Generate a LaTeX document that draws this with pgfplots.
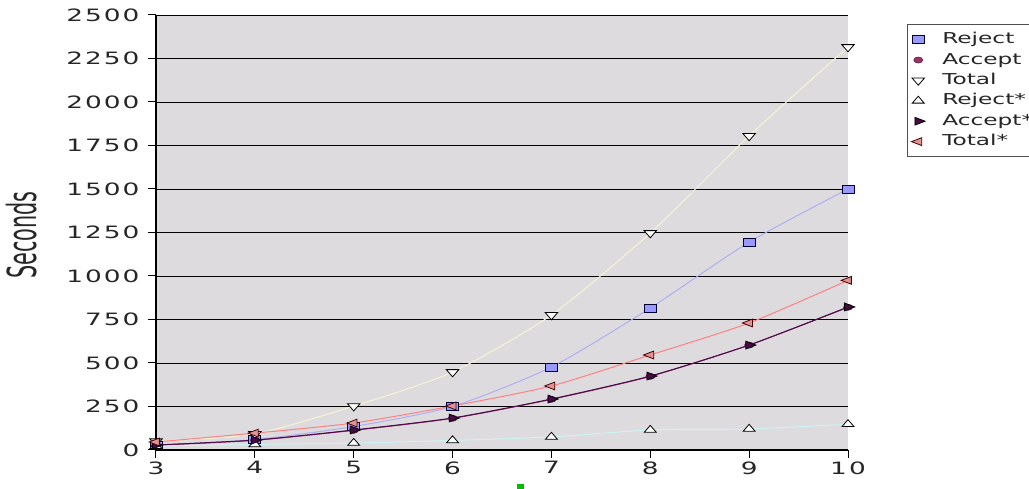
\documentclass[border=0pt]{standalone}
\usepackage{fontspec}
\setmainfont{DejaVu Sans}[FakeStretch=1.55]
\newfontfamily\tickfont{DejaVu Sans}[FakeStretch=1.55, LetterSpace=12]
\newfontfamily\labelfont{DejaVu Sans}[FakeStretch=0.52]
\usepackage{graphicx}
\usepackage{pgfplots}
\pgfplotsset{compat=1.18}

\definecolor{wall}{HTML}{DEDBDF}
\definecolor{cReject}{HTML}{9999FF}
\definecolor{cRejectLine}{HTML}{AEAEF2}
\definecolor{cAccept}{HTML}{993366}
\definecolor{cTotal}{HTML}{F8F4D2}
\definecolor{cRejectS}{HTML}{CCF4F4}
\definecolor{cAcceptS}{HTML}{4A0A4A}
\definecolor{cTotalS}{HTML}{FF8080}
\definecolor{cTotalSfill}{HTML}{E09494}
\definecolor{ticktext}{HTML}{262626}
\definecolor{legframe}{HTML}{505050}

\begin{document}
\begin{tikzpicture}[x=1pt,y=1pt]
\begin{axis}[
    scale only axis,
    width=692pt, height=435pt,
    xmin=3, xmax=10, ymin=0, ymax=2500,
    clip=false,
    axis lines=left,
    axis line style={-, line width=1.2pt, black},
    axis background/.style={fill=wall},
    xtick={3,4,...,10},
    ytick={0,250,...,2500},
    tick align=outside,
    major tick length=8pt,
    tick style={black, line width=1pt},
    ymajorgrids,
    major grid style={black, line width=0.9pt},
    /pgf/number format/assume math mode=true,
    /pgf/number format/1000 sep={},
    tick label style={font=\tickfont\fontsize{17}{17}\selectfont, text=ticktext},
    yticklabel style={xshift=-5pt},
    ylabel={\labelfont\fontsize{40}{40}\selectfont Seconds},
    ylabel style={at={(axis description cs:-0.1936,0.494)}, anchor=center, text=ticktext},
    legend style={at={(1.0853,0.979)}, anchor=north west,
        draw=legframe, line width=1pt, fill=white,
        font=\fontsize{15}{15}\selectfont, text=ticktext,
        inner xsep=4pt, inner ysep=7pt, row sep=4.4pt,
        nodes={inner sep=1pt, text height=11pt, text depth=3pt}},
    legend cell align=left,
    legend image code/.code={%
        \path[draw=none, fill=none] (0pt,-5pt) rectangle (29pt,5pt);
        \path[#1] plot[only marks] coordinates {(6pt,0pt)};
    },
    every axis plot/.append style={line width=1pt, smooth, tension=0.4},
  ]
  \addplot[color=cRejectLine, mark=square*,
      mark options={xscale=1.5, mark size=4pt, fill=cReject, draw=black!80!blue, line width=0.8pt}]
  coordinates {(3,28) (4,60) (5,135) (6,250) (7,477) (8,816) (9,1195) (10,1500)};

  \addplot[color=cAccept, mark=*,
      mark options={xscale=1.5, mark size=3pt, fill=cAccept, draw=cAccept!60!black, line width=0.6pt}]
  coordinates {(3,27) (4,56) (5,113) (6,182) (7,291) (8,423) (9,603) (10,820)};

  \addplot[color=cTotal, mark=triangle*,
      mark options={xscale=1.5, rotate=180, mark size=4.8pt, fill=white, draw=black, line width=0.8pt}]
  coordinates {(3,50) (4,92) (5,252) (6,448) (7,776) (8,1247) (9,1805) (10,2316)};

  \addplot[color=cRejectS, mark=triangle*,
      mark options={xscale=1.5, mark size=4.6pt, fill=white, draw=black, line width=0.8pt}]
  coordinates {(3,22) (4,32) (5,40) (6,55) (7,75) (8,115) (9,121) (10,148)};

  \addplot[color=cAcceptS, mark=triangle*,
      mark options={xscale=1.5, rotate=-90, mark size=4.5pt, fill=cAcceptS, draw=black, line width=0.8pt}]
  coordinates {(3,29) (4,57) (5,115) (6,184) (7,293) (8,425) (9,603) (10,822)};

  \addplot[color=cTotalS, mark=triangle*,
      mark options={xscale=1.5, rotate=90, mark size=4.5pt, fill=cTotalSfill, draw=black!70!red, line width=0.8pt}]
  coordinates {(3,46) (4,97) (5,155) (6,253) (7,368) (8,546) (9,730) (10,975)};

  \legend{Reject,Accept,Total,Reject*,Accept*\hspace*{14pt},Total*}
\end{axis}
\fill[green!75!black] (361,-34) rectangle (368,-42);
\pgfresetboundingbox
\path[use as bounding box] (-156,-39) rectangle (873,450);
\end{tikzpicture}
\end{document}
